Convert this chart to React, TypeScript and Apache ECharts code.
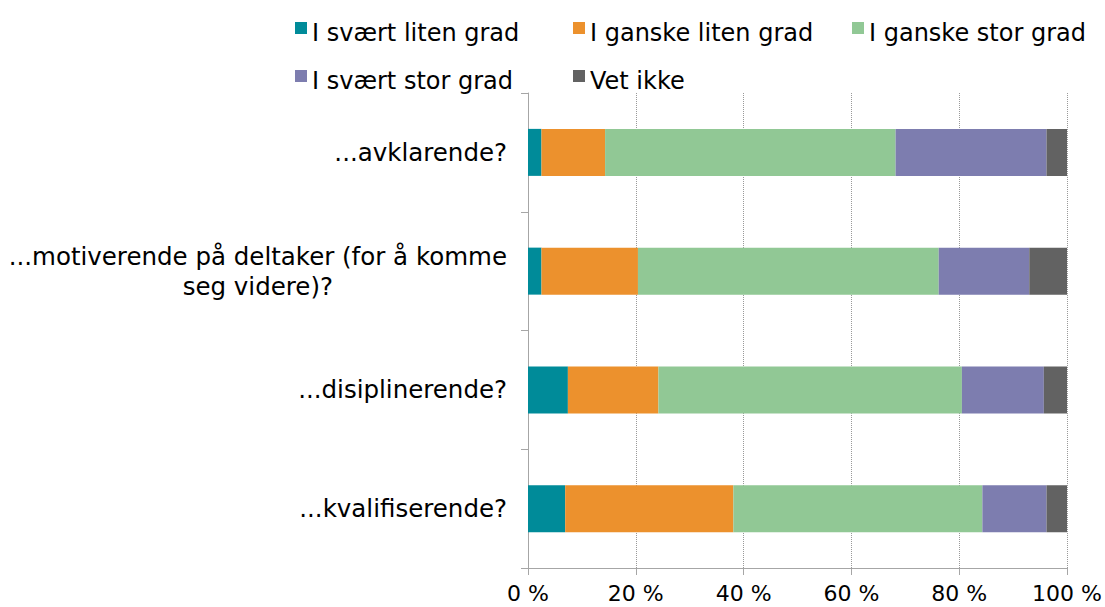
import React, { useEffect, useRef } from 'react';
import * as echarts from 'echarts';

const categories = [
  '...avklarende?',
  '...motiverende på deltaker (for å komme\nseg videre)?',
  '...disiplinerende?',
  '...kvalifiserende?',
];
const seriesNames = [
  'I svært liten grad',
  'I ganske liten grad',
  'I ganske stor grad',
  'I svært stor grad',
  'Vet ikke',
];
const sværtLitenGrad = [2.5, 2.5, 7.4, 6.9];
const ganskeLitenGrad = [11.8, 17.9, 16.8, 31.2];
const ganskeStorGrad = [53.9, 55.8, 56.3, 46.2];
const sværtStorGrad = [28.0, 16.8, 15.2, 11.9];
const vetIkke = [3.8, 7.0, 4.3, 3.8];
const xTickValues = [0, 20, 40, 60, 80, 100];

const seriesValues = [sværtLitenGrad, ganskeLitenGrad, ganskeStorGrad, sværtStorGrad, vetIkke];
const colors = ['#008b99', '#ec912d', '#91c895', '#7d7daf', '#626262'];
const FONT = 'DejaVu Sans';

// legend item positions: [left, top]
const legendPos = [
  [295, 21],
  [573, 21],
  [852, 21],
  [295, 69],
  [573, 69],
];

export default function App() {
  const ref = useRef<HTMLDivElement>(null);
  useEffect(() => {
    if (!ref.current) return;
    const chart = echarts.init(ref.current, undefined, { renderer: 'svg' });
    const option: any = {
      animation: false,
      color: colors,
      textStyle: { fontFamily: FONT },
      legend: seriesNames.map((name, i) => ({
        data: [name],
        left: legendPos[i][0],
        top: legendPos[i][1],
        padding: 0,
        itemWidth: 12,
        itemHeight: 22,
        itemGap: 0,
        icon: 'path://M0,0H12V12H0Z M0,22L0.01,22',
        selectedMode: false,
        textStyle: { fontSize: 24, color: '#000', fontFamily: FONT },
      })),
      grid: {
        left: 528,
        right: 38,
        top: 93,
        bottom: 39,
        containLabel: false,
        outerBoundsMode: 'none',
      },
      xAxis: {
        type: 'value',
        min: xTickValues[0],
        max: xTickValues[xTickValues.length - 1],
        interval: xTickValues[1] - xTickValues[0],
        axisLine: { show: true, lineStyle: { color: '#a6a6a6', width: 1 } },
        axisTick: { show: true, length: 7, lineStyle: { color: '#a6a6a6' } },
        splitLine: { show: true, lineStyle: { type: 'dotted', color: '#999', width: 1 } },
        axisLabel: {
          formatter: '{value} %',
          fontSize: 22,
          color: '#000',
          margin: 14,
          fontFamily: FONT,
        },
      },
      yAxis: {
        type: 'category',
        data: categories,
        inverse: true,
        axisLine: { show: true, lineStyle: { color: '#a6a6a6', width: 1 } },
        axisTick: { show: true, length: 7, lineStyle: { color: '#a6a6a6' } },
        splitLine: { show: false },
        axisLabel: {
          margin: 21,
          color: '#000',
          fontSize: 24.5,
          lineHeight: 30,
          fontFamily: FONT,
          formatter: (v: string) =>
            v
              .split('\n')
              .map((l) => `{c|${l}}`)
              .join('\n'),
          rich: {
            c: { align: 'center', fontSize: 24.5, lineHeight: 30, color: '#000', fontFamily: FONT },
          },
        },
      },
      series: seriesNames.map((name, i) => ({
        name,
        type: 'bar',
        stack: 'total',
        barWidth: 47,
        data: seriesValues[i],
        itemStyle: { color: colors[i] },
      })),
    };
    chart.setOption(option);
    return () => chart.dispose();
  }, []);
  return (
    <div
      ref={ref}
      style={{ position: 'absolute', left: 0, top: 0, width: 1105, height: 607, background: '#fff' }}
    />
  );
}
